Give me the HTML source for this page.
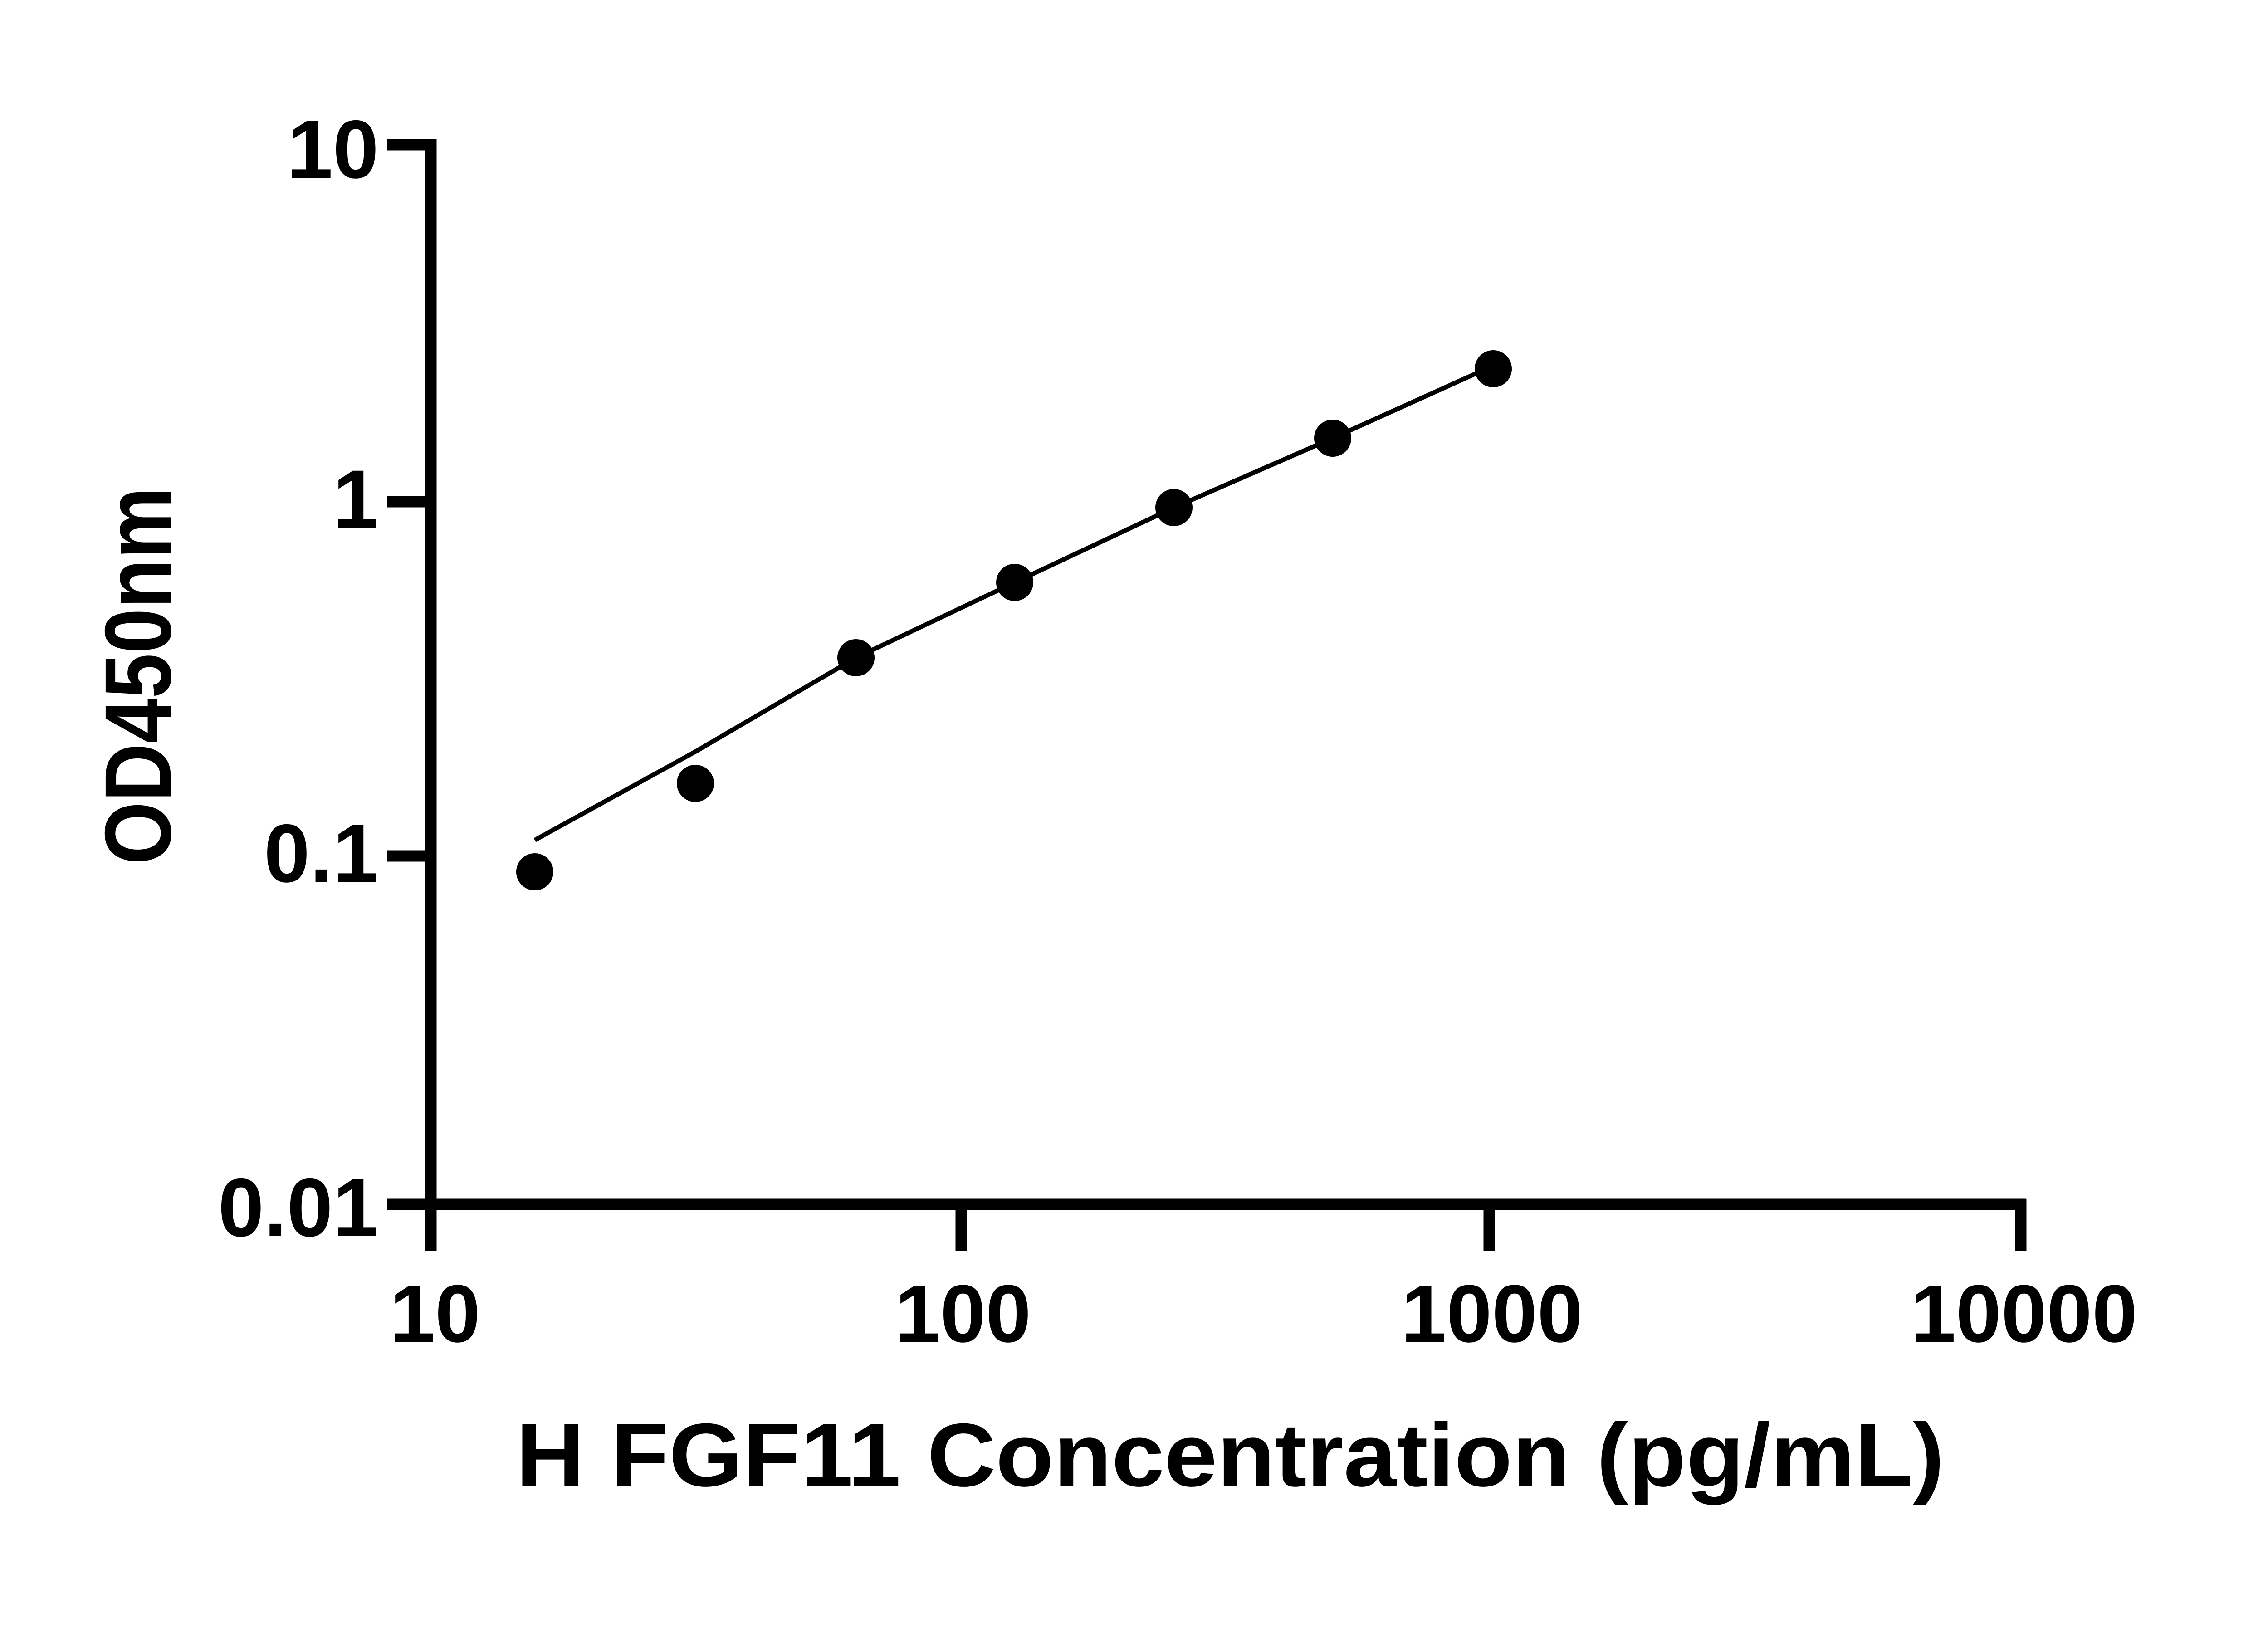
<!DOCTYPE html>
<html><head><style>html,body{margin:0;padding:0;background:#fff}</style></head>
<body>
<svg width="5130" height="3600" xmlns="http://www.w3.org/2000/svg" style="display:block">
<rect width="5130" height="3600" fill="#fff"/>
<g stroke="#000" stroke-width="25" fill="none" stroke-linecap="butt">
<path d="M854 319 H950 V2655 H4467"/>
<path d="M854 1106 H950 M854 1887 H950 M854 2655 H950"/>
<path d="M950 2655 V2757 M2119 2655 V2757 M3283 2655 V2757 M4455 2643 V2757"/>
</g>
<polyline points="1179,1852 1533,1657 1887,1450 2237,1284 2588,1119 2938,966 3257,822" fill="none" stroke="#000" stroke-width="10"/>
<g fill="#000">
<circle cx="1179" cy="1922" r="41"/>
<circle cx="1533" cy="1727" r="41"/>
<circle cx="1887" cy="1450" r="41"/>
<circle cx="2237" cy="1284" r="41"/>
<circle cx="2588" cy="1119" r="41"/>
<circle cx="2938" cy="966" r="41"/>
<circle cx="3292" cy="813" r="41"/>
</g>
<g font-family="Liberation Sans, Arial, sans-serif" font-weight="bold" font-size="182" fill="#000">
<g text-anchor="end">
<text x="835" y="392">10</text>
<text x="835" y="1163">1</text>
<text x="835" y="1944">0.1</text>
<text x="835" y="2725">0.01</text>
</g>
<g text-anchor="middle" font-size="180">
<text x="959" y="2958">10</text>
<text x="2123" y="2958">100</text>
<text x="3289" y="2958">1000</text>
<text x="4462" y="2958">10000</text>
</g>
<text x="2712" y="3276" text-anchor="middle" font-size="198" textLength="3149" lengthAdjust="spacingAndGlyphs">H FGF11 Concentration (pg/mL)</text>
<text transform="translate(376,1490) rotate(-90)" text-anchor="middle" font-size="208" textLength="832" lengthAdjust="spacingAndGlyphs">OD450nm</text>
</g>
</svg>
</body></html>
